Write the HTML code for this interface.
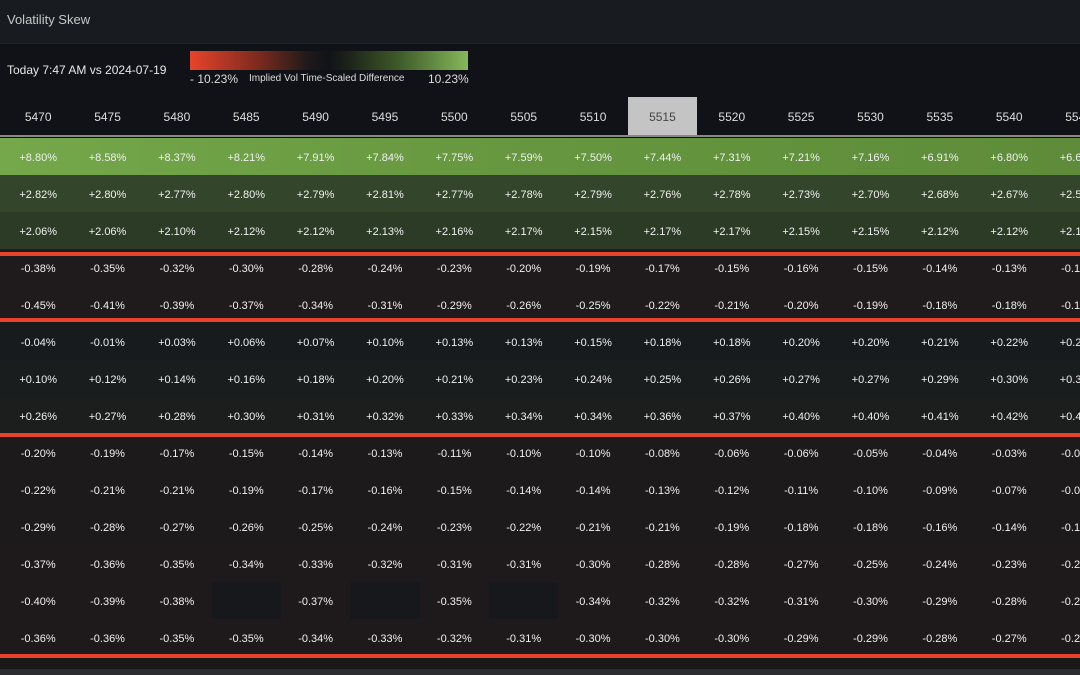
<!DOCTYPE html>
<html><head><meta charset="utf-8"><style>
*{margin:0;padding:0;box-sizing:border-box}
body{width:1080px;height:675px;overflow:hidden;background:#111217;font-family:"Liberation Sans",sans-serif;position:relative;color:#e6e6e6}
.title{position:absolute;left:0;top:0;width:1080px;height:44px;background:#181b1f;border-bottom:1px solid #202226}
.title span{position:absolute;left:7px;top:12px;font-size:13px;color:#c8c8c8}
.sub{position:absolute;left:7px;top:63px;font-size:12px;color:#e8e8e8}
.grad{position:absolute;left:190px;top:51px;width:278px;height:19px;background:linear-gradient(90deg,#e8432a 0%,#7a2a1e 25%,#201a1a 42%,#111217 50%,#1e261a 58%,#3e5a2a 75%,#86b85a 100%)}
.lg{position:absolute;top:72px;font-size:11px;color:#ddd}
.hdr{position:absolute;left:0;top:97px;width:1080px;height:40px;background:#111217;border-bottom:2px solid #888}
.row{position:absolute;left:0;width:1080px;height:37px;display:flex;padding-left:3.5px;overflow:hidden}
.row div{flex:0 0 69.36px;text-align:center;line-height:40px;font-size:11px;color:#f0f0f0}
.hdr div{line-height:40px;font-size:12px;color:#ddd}
.hdr div.sel{background:#c4c4c4;color:#444}
.red{position:absolute;left:0;width:1080px;height:4px;background:#e8432a}
.e{background:#16181c}
</style></head><body>
<div class="title"><span>Volatility Skew</span></div>
<div class="sub">Today 7:47 AM vs 2024-07-19</div>
<div class="grad"></div>
<div class="lg" style="left:190px;font-size:12px">- 10.23%</div>
<div class="lg" style="left:249px;font-size:10px;top:73px">Implied Vol Time-Scaled Difference</div>
<div class="lg" style="left:428px;font-size:12px">10.23%</div>
<div class="row hdr" style="height:40px"><div>5470</div><div>5475</div><div>5480</div><div>5485</div><div>5490</div><div>5495</div><div>5500</div><div>5505</div><div>5510</div><div class="sel">5515</div><div>5520</div><div>5525</div><div>5530</div><div>5535</div><div>5540</div><div>5545</div></div>
<div class="row" style="top:138px;background:linear-gradient(90deg,#74a84a,#66963f 50%,#5e8c3a)"><div>+8.80%</div><div>+8.58%</div><div>+8.37%</div><div>+8.21%</div><div>+7.91%</div><div>+7.84%</div><div>+7.75%</div><div>+7.59%</div><div>+7.50%</div><div>+7.44%</div><div>+7.31%</div><div>+7.21%</div><div>+7.16%</div><div>+6.91%</div><div>+6.80%</div><div>+6.63%</div></div>
<div class="row" style="top:175px;background:#33452a"><div>+2.82%</div><div>+2.80%</div><div>+2.77%</div><div>+2.80%</div><div>+2.79%</div><div>+2.81%</div><div>+2.77%</div><div>+2.78%</div><div>+2.79%</div><div>+2.76%</div><div>+2.78%</div><div>+2.73%</div><div>+2.70%</div><div>+2.68%</div><div>+2.67%</div><div>+2.58%</div></div>
<div class="row" style="top:212px;background:#2c3b25"><div>+2.06%</div><div>+2.06%</div><div>+2.10%</div><div>+2.12%</div><div>+2.12%</div><div>+2.13%</div><div>+2.16%</div><div>+2.17%</div><div>+2.15%</div><div>+2.17%</div><div>+2.17%</div><div>+2.15%</div><div>+2.15%</div><div>+2.12%</div><div>+2.12%</div><div>+2.10%</div></div>
<div class="row" style="top:249px;background:#1f1a1b"><div>-0.38%</div><div>-0.35%</div><div>-0.32%</div><div>-0.30%</div><div>-0.28%</div><div>-0.24%</div><div>-0.23%</div><div>-0.20%</div><div>-0.19%</div><div>-0.17%</div><div>-0.15%</div><div>-0.16%</div><div>-0.15%</div><div>-0.14%</div><div>-0.13%</div><div>-0.12%</div></div>
<div class="row" style="top:286px;background:#1f1a1b"><div>-0.45%</div><div>-0.41%</div><div>-0.39%</div><div>-0.37%</div><div>-0.34%</div><div>-0.31%</div><div>-0.29%</div><div>-0.26%</div><div>-0.25%</div><div>-0.22%</div><div>-0.21%</div><div>-0.20%</div><div>-0.19%</div><div>-0.18%</div><div>-0.18%</div><div>-0.17%</div></div>
<div class="row" style="top:323px;background:#181b1d"><div>-0.04%</div><div>-0.01%</div><div>+0.03%</div><div>+0.06%</div><div>+0.07%</div><div>+0.10%</div><div>+0.13%</div><div>+0.13%</div><div>+0.15%</div><div>+0.18%</div><div>+0.18%</div><div>+0.20%</div><div>+0.20%</div><div>+0.21%</div><div>+0.22%</div><div>+0.23%</div></div>
<div class="row" style="top:360px;background:#1a1d1d"><div>+0.10%</div><div>+0.12%</div><div>+0.14%</div><div>+0.16%</div><div>+0.18%</div><div>+0.20%</div><div>+0.21%</div><div>+0.23%</div><div>+0.24%</div><div>+0.25%</div><div>+0.26%</div><div>+0.27%</div><div>+0.27%</div><div>+0.29%</div><div>+0.30%</div><div>+0.31%</div></div>
<div class="row" style="top:397px;background:#1b1e1d"><div>+0.26%</div><div>+0.27%</div><div>+0.28%</div><div>+0.30%</div><div>+0.31%</div><div>+0.32%</div><div>+0.33%</div><div>+0.34%</div><div>+0.34%</div><div>+0.36%</div><div>+0.37%</div><div>+0.40%</div><div>+0.40%</div><div>+0.41%</div><div>+0.42%</div><div>+0.43%</div></div>
<div class="row" style="top:434px;background:#1c1a1b"><div>-0.20%</div><div>-0.19%</div><div>-0.17%</div><div>-0.15%</div><div>-0.14%</div><div>-0.13%</div><div>-0.11%</div><div>-0.10%</div><div>-0.10%</div><div>-0.08%</div><div>-0.06%</div><div>-0.06%</div><div>-0.05%</div><div>-0.04%</div><div>-0.03%</div><div>-0.02%</div></div>
<div class="row" style="top:471px;background:#1c1a1b"><div>-0.22%</div><div>-0.21%</div><div>-0.21%</div><div>-0.19%</div><div>-0.17%</div><div>-0.16%</div><div>-0.15%</div><div>-0.14%</div><div>-0.14%</div><div>-0.13%</div><div>-0.12%</div><div>-0.11%</div><div>-0.10%</div><div>-0.09%</div><div>-0.07%</div><div>-0.06%</div></div>
<div class="row" style="top:508px;background:#1d1a1b"><div>-0.29%</div><div>-0.28%</div><div>-0.27%</div><div>-0.26%</div><div>-0.25%</div><div>-0.24%</div><div>-0.23%</div><div>-0.22%</div><div>-0.21%</div><div>-0.21%</div><div>-0.19%</div><div>-0.18%</div><div>-0.18%</div><div>-0.16%</div><div>-0.14%</div><div>-0.13%</div></div>
<div class="row" style="top:545px;background:#1e1a1b"><div>-0.37%</div><div>-0.36%</div><div>-0.35%</div><div>-0.34%</div><div>-0.33%</div><div>-0.32%</div><div>-0.31%</div><div>-0.31%</div><div>-0.30%</div><div>-0.28%</div><div>-0.28%</div><div>-0.27%</div><div>-0.25%</div><div>-0.24%</div><div>-0.23%</div><div>-0.22%</div></div>
<div class="row" style="top:582px;background:#1e1a1b"><div>-0.40%</div><div>-0.39%</div><div>-0.38%</div><div class="e"></div><div>-0.37%</div><div class="e"></div><div>-0.35%</div><div class="e"></div><div>-0.34%</div><div>-0.32%</div><div>-0.32%</div><div>-0.31%</div><div>-0.30%</div><div>-0.29%</div><div>-0.28%</div><div>-0.27%</div></div>
<div class="row" style="top:619px;background:#1e1a1b"><div>-0.36%</div><div>-0.36%</div><div>-0.35%</div><div>-0.35%</div><div>-0.34%</div><div>-0.33%</div><div>-0.32%</div><div>-0.31%</div><div>-0.30%</div><div>-0.30%</div><div>-0.30%</div><div>-0.29%</div><div>-0.29%</div><div>-0.28%</div><div>-0.27%</div><div>-0.26%</div></div>
<div style="position:absolute;left:0;top:656px;width:1080px;height:13px;background:#1a1818"></div>
<div style="position:absolute;left:0;top:669px;width:1080px;height:6px;background:#2a2c30"></div>
<div class="red" style="top:252px"></div>
<div class="red" style="top:318px"></div>
<div class="red" style="top:433px"></div>
<div class="red" style="top:654px"></div>
</body></html>
